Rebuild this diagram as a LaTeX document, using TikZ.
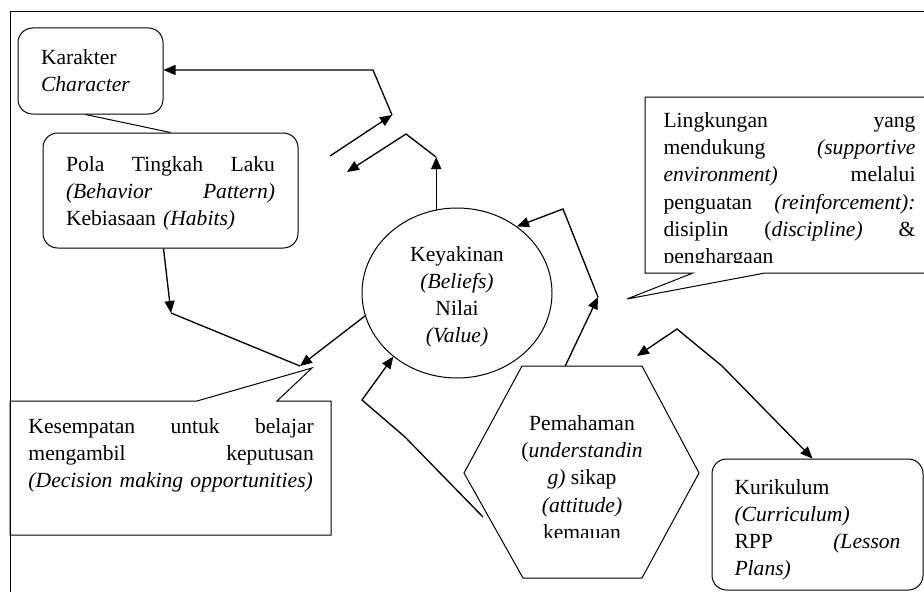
\documentclass[tikz,border=0pt]{standalone}
\usepackage{fontspec}
\setmainfont{Liberation Serif}
\usetikzlibrary{arrows.meta,shapes.geometric,calc}

\tikzset{every picture/.style={line width=0.75pt}}
\tikzset{
	rbox/.style={draw, rounded corners=11pt, align=left, inner sep=0pt},
	conn/.style={line width=1pt},
	arrowend/.style={-{Triangle[length=9pt,width=7.5pt]}},
	arrowboth/.style={{Triangle[length=9pt,width=7.5pt]}-{Triangle[length=9pt,width=7.5pt]}},
}
% justified line: width, words split by \hfill
\newcommand{\jline}[2]{\makebox[#1]{#2}}

\begin{document}
\begin{tikzpicture}[x=0.75pt,y=0.75pt,yscale=-1,xscale=1,
	every node/.style={font=\fontsize{16.2}{20.4}\selectfont}]
	\useasboundingbox (0,0) rectangle (924,592);

	%Straight Lines: frame
	\draw (926,12) -- (10,12) -- (10,594) ;

	%Rounded Rect: Karakter
	\node[rbox, minimum width=108.75pt, minimum height=64.5pt, text width=74.25pt] (karakter) at (90.5,71) {Karakter\\\textit{Character}};
	%Rounded Rect: Pola Tingkah Laku
	\node[rbox, minimum width=191.25pt, minimum height=86.25pt, text width=156.75pt] (pola) at (170.5,190.5) {\rule{0pt}{15pt}\jline{156.75pt}{Pola\hfill Tingkah\hfill Laku}\\\jline{156.75pt}{\textit{(Behavior\hfill Pattern)}}\\Kebiasaan \textit{(Habits)}};
	%Rounded Rect: Kurikulum
	\node[rbox, minimum width=158.25pt, minimum height=98.25pt, text width=124.5pt] (kurikulum) at (817.5,524.5) {\rule{0pt}{19pt}Kurikulum\\\textit{(Curriculum)}\\\jline{124.5pt}{RPP\hfill\textit{(Lesson}}\\\textit{Plans)}};
	%Shape: Ellipse
	\node[draw, ellipse, minimum width=142.5pt, minimum height=127.5pt, inner sep=0pt, align=center] (keyakinan) at (457,293) {\rule{0pt}{17pt}Keyakinan\\\textit{(Beliefs)}\\Nilai\\\textit{(Value)}};

	%Shape: Callout (decision)
	\draw (10,401) -- (197,401) -- (312,368) -- (277,401) -- (331,401) -- (331,535) -- (10,535) -- cycle ;
	% Text Node
	\node[anchor=north west, inner sep=0pt, text width=214pt, align=left] (decision) at (28,418) {\jline{214pt}{Kesempatan\hfill untuk\hfill belajar}\\\jline{214pt}{mengambil\hfill keputusan}\\\textit{(Decision making opportunities)}};

	%Shape: Callout (lingkungan)
	\draw (645,97) -- (926,97) -- (926,273) -- (765,273) -- (627,299) -- (693,273) -- (645,273) -- cycle ;
	\begin{scope}
		\clip (645,97) rectangle (924,262.5);
		% Text Node
		\node[anchor=north west, inner sep=0pt, text width=189pt, align=left] (lingkungan) at (663,112) {\jline{189pt}{Lingkungan\hfill yang}\\\jline{189pt}{mendukung\hfill\textit{(supportive}}\\\jline{189pt}{\textit{environment)}\hfill melalui}\\\jline{189pt}{penguatan\hfill\textit{(reinforcement):}}\\\jline{189pt}{disiplin\hfill(\textit{discipline)}\hfill\&}\\penghargaan};
	\end{scope}

	%Shape: Hexagon
	\coordinate (hx1) at (522,366);
	\coordinate (hx2) at (642,366);
	\coordinate (hx3) at (699,473);
	\coordinate (hx4) at (642,578);
	\coordinate (hx5) at (523,578);
	\coordinate (hx6) at (464,473);
	\draw (hx1) -- (hx2) -- (hx3) -- (hx4) -- (hx5) -- (hx6) -- cycle ;
	\begin{scope}
		\clip (460,360) rectangle (705,537.5);
		% Text Node
		\node[anchor=north, inner sep=0pt, align=center] (pemahaman) at (582,415) {Pemahaman\\(\textit{understandin}\\\textit{g)} sikap\\\textit{(attitude)}\\kemauan};
	\end{scope}

	% bends
	\coordinate (kup) at (436,157);
	\coordinate (kbend) at (406,134);
	\coordinate (kend) at (347,172);
	\coordinate (pstart) at (330,156);
	\coordinate (ptip) at (392,115);
	\coordinate (pbend) at (373,70);
	\coordinate (pdown) at (171,313);
	\coordinate (dtip) at (300,366);
	\coordinate (hstart) at (483,517);
	\coordinate (hb1) at (405,437);
	\coordinate (hb2) at (362,400);
	\coordinate (utip) at (598,297);
	\coordinate (ubend) at (563,209);
	\coordinate (cb1) at (637,356);
	\coordinate (cb2) at (677,329);
	\coordinate (cb3) at (722,366);

	%Straight Lines
	\draw[conn,arrowend] (keyakinan.104) -- (keyakinan.104 |- kup) ;
	\draw[conn,arrowend] (kup) -- (kbend) -- (kend) ;
	\draw[conn,arrowend] (pstart) -- (ptip) ;
	\draw[conn,arrowend] (ptip) -- (pbend) -- (pbend -| karakter.east) ;
	\draw ($(karakter.south)+(-5,0)$) -- (pola.north) ;
	\draw[conn,arrowend] ($(pola.south)+(-7,0)$) -- (pdown) ;
	\draw[conn] (pdown) -- (dtip) ;
	\draw[conn,arrowend] (keyakinan.194) -- (dtip) ;
	\draw[conn,arrowend] (hstart) -- (hb1) -- (hb2) -- (keyakinan.225) ;
	\draw[conn,arrowend] ($(hx1)!0.36!(hx2)$) -- (utip) ;
	\draw[conn,arrowend] (utip) -- (ubend) -- (keyakinan.48) ;
	\draw[conn,arrowboth] (cb1) -- (cb2) -- (cb3) -- ($(kurikulum.north)+(-5,0)$) ;

\end{tikzpicture}
\end{document}
